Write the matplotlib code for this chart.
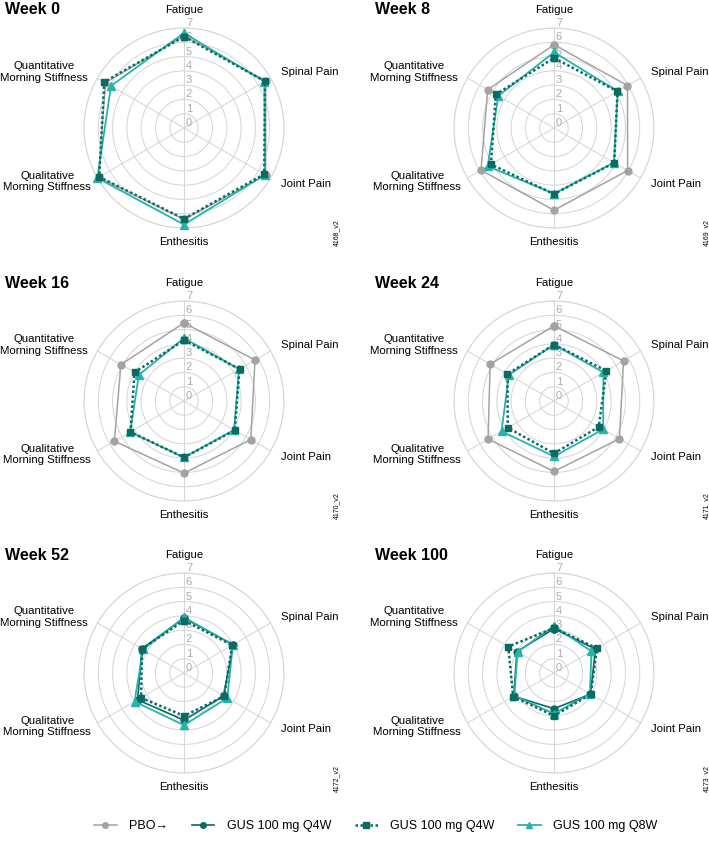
import matplotlib as mpl
mpl.use('Agg')
import matplotlib.pyplot as plt
from matplotlib.lines import Line2D
import numpy as np

plt.rcParams['font.family'] = ['Liberation Sans', 'DejaVu Sans']

categories = ['Fatigue', 'Spinal Pain', 'Joint Pain', 'Enthesitis',
              'Qualitative\nMorning Stiffness', 'Quantitative\nMorning Stiffness']
weeks = ['Week 0', 'Week 8', 'Week 16', 'Week 24', 'Week 52', 'Week 100']
codes = ['4168_v2', '4169_v2', '4170_v2', '4171_v2', '4172_v2', '4173_v2']

# PBO (weeks 0-24), then PBO -> GUS 100 mg Q4W (weeks 52, 100)
pbo = [
    [6.45, 6.6, 6.6, 6.4, 6.9, 6.35],
    [5.83, 5.94, 5.95, 5.76, 5.9, 5.36],
    [5.47, 5.74, 5.4, 5.05, 5.63, 5.1],
    [5.26, 5.62, 5.29, 4.93, 5.33, 5.16],
    [3.84, 3.97, 3.21, 3.3, 3.75, 3.4],
    [3.1, 3.35, 2.95, 2.5, 3.25, 3.0],
]
gus_q4w = [
    [6.4, 6.55, 6.48, 6.36, 6.85, 6.45],
    [4.9, 5.13, 4.87, 4.62, 5.1, 4.7],
    [4.26, 4.49, 4.1, 3.95, 4.33, 4.0],
    [3.95, 4.23, 3.62, 3.67, 3.74, 3.76],
    [3.67, 3.9, 3.25, 3.0, 3.47, 3.39],
    [3.14, 3.47, 2.97, 3.0, 3.3, 3.7],
]
gus_q8w = [
    [6.65, 6.5, 6.55, 6.76, 7.0, 5.9],
    [5.3, 5.15, 4.85, 4.6, 5.36, 4.5],
    [4.4, 4.45, 4.05, 3.95, 4.35, 3.65],
    [3.95, 4.0, 3.97, 3.88, 4.24, 3.65],
    [3.9, 3.95, 3.5, 3.65, 4.0, 3.3],
    [3.3, 3.03, 2.9, 2.85, 3.2, 2.95],
]
switch_idx = 4  # from week 52 on the PBO arm is on GUS Q4W

GREY = '#a3a3a3'
DARK = '#0a6b63'
LIGHT = '#27b3ab'

W, H = 709, 848
fig = plt.figure(figsize=(W / 100, H / 100), dpi=100)

centers = [(184, 128), (554, 128), (184, 401), (554, 401), (184, 673), (554, 673)]
R = 100  # px radius of outer ring

angles = np.deg2rad(np.arange(0, 360, 60))
closed = np.append(angles, angles[0])


def closev(vals):
    return np.append(vals, vals[0])


for i, (cx, cy) in enumerate(centers):
    ax = fig.add_axes([(cx - R) / W, (H - cy - R) / H, 2 * R / W, 2 * R / H],
                      projection='polar')
    ax.set_theta_zero_location('N')
    ax.set_theta_direction(-1)
    ax.set_ylim(0, 7)
    ax.set_yticks(range(1, 8))
    ax.set_yticklabels([])
    ax.set_xticks(angles)
    ax.set_xticklabels([])
    ax.grid(color='#d6d6d6', linewidth=0.75)
    ax.spines['polar'].set_color('#d6d6d6')
    ax.spines['polar'].set_linewidth(0.75)
    ax.set_facecolor('none')

    for v in range(8):
        ax.annotate(str(v), xy=(0, v), xytext=(3.6, 3.6), textcoords='offset points',
                    ha='center', va='center', fontsize=8, color='#ababab')

    if i < switch_idx:
        ax.plot(closed, closev(pbo[i]), color=GREY, lw=1.1, marker='o', ms=5,
                zorder=3, clip_on=False)
    else:
        ax.plot(closed, closev(pbo[i]), color=DARK, lw=1.2, marker='o', ms=5,
                zorder=4, clip_on=False)
    ax.plot(closed, closev(gus_q8w[i]), color=LIGHT, lw=1.3, marker='^', ms=5.5,
            zorder=5, clip_on=False)
    ax.plot(closed, closev(gus_q4w[i]), color=DARK, lw=1.8, ls=(0, (1, 1)),
            marker='s', ms=5, zorder=6, clip_on=False)

    # category labels
    ax.text(0, 7.9, categories[0], ha='center', va='bottom', fontsize=8.2)
    ax.text(angles[1], 7.85, categories[1], ha='left', va='center', fontsize=8.2)
    ax.text(angles[2], 7.85, categories[2], ha='left', va='center', fontsize=8.2)
    ax.text(angles[3], 7.6, categories[3], ha='center', va='top', fontsize=8.2)
    ax.text(angles[4], 7.5, categories[4], ha='right', va='center', fontsize=8.2,
            multialignment='center', linespacing=1.2)
    ax.text(angles[5], 7.8, categories[5], ha='right', va='center', fontsize=8.2,
            multialignment='center', linespacing=1.2)

    tx = 5 if cx < 300 else 375
    fig.text(tx / W, 1 - (cy - 118) / H, weeks[i], ha='left', va='center',
             fontsize=11.5, fontweight='bold')
    fig.text((cx + 153) / W, 1 - (cy + 105) / H, codes[i], rotation=90,
             ha='center', va='center', fontsize=5)

handles = [
    Line2D([], [], color=GREY, lw=1.1, marker='o', ms=4),
    Line2D([], [], color=DARK, lw=1.2, marker='o', ms=4),
    Line2D([], [], color=DARK, lw=1.8, ls=(0, (1, 1)), marker='s', ms=4),
    Line2D([], [], color=LIGHT, lw=1.3, marker='^', ms=4.5),
]
labels = ['PBO\u2192', 'GUS 100 mg Q4W', 'GUS 100 mg Q4W', 'GUS 100 mg Q8W']
fig.legend(handles, labels, loc='center', bbox_to_anchor=(0.53, 1 - 826 / H),
           ncol=4, frameon=False, fontsize=9, handlelength=1.8,
           columnspacing=1.9, handletextpad=1.0)

fig.savefig('out.png', dpi=100)
